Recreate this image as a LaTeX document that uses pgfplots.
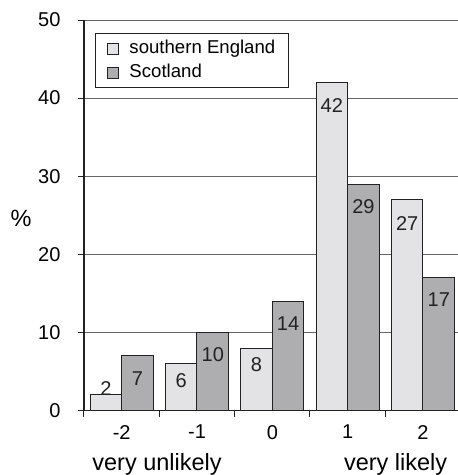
\documentclass[border=0pt]{standalone}
\usepackage{pgfplots}
\pgfplotsset{compat=1.18}
\usepackage{fontspec}
\setmainfont{Liberation Sans}

\definecolor{lightbar}{HTML}{E3E3E5}
\definecolor{darkbar}{HTML}{AEAEB1}
\definecolor{edge}{HTML}{222222}

\newcommand{\tickfont}{\fontsize{20}{24}\selectfont}
\newcommand{\legfont}{\fontsize{18.6}{22}\selectfont}
\newcommand{\bigfont}{\fontsize{23.5}{28}\selectfont}

\pgfplotsset{
  squarelegend/.style={
    legend image code/.code={\draw[##1, line width=1pt, draw=edge] (0pt,-5.5pt) rectangle (11pt,5.5pt);}
  },
}

\begin{document}
\begin{tikzpicture}
\useasboundingbox (-84pt,-64.5pt) rectangle (374pt,410.5pt);
\begin{axis}[
  scale only axis, width=374pt, height=390.5pt,
  xmin=-2.5, xmax=2.465, ymin=0, ymax=50,
  axis x line*=bottom, axis y line*=left,
  axis line style={edge, line width=1.3pt},
  ytick={0,10,...,50},
  ymajorgrids, grid style={black!60, line width=0.8pt},
  xtick={-2.5,-1.5,...,2.5}, xticklabels={},
  extra x ticks={-2,-1,0,1,2},
  extra x tick labels={-2,-1,0,1,2},
  extra x tick style={major tick length=0pt, tick label style={yshift=-11pt}},
  tick align=outside, major tick length=6pt,
  tick style={edge, line width=1pt},
  tick label style={font=\tickfont},
  yticklabel style={xshift=-14pt},
  /pgf/number format/assume math mode=true,
  legend style={at={(0.029,0.967)}, anchor=north west, draw=edge, line width=1.3pt,
    font=\legfont, inner xsep=12pt, inner ysep=4.5pt, row sep=3pt,
    nodes={inner xsep=1pt, inner ysep=2pt, text height=13pt, text depth=4pt},
    /tikz/every odd column/.append style={column sep=9pt}},
  legend cell align=left,
  clip=false,
]
% southern England: labels sit inside the bar top; the short first bar carries its label above
\addplot[ybar, bar width=0.42, bar shift=-0.21, fill=lightbar, draw=edge, line width=1pt,
  squarelegend,
  nodes near coords,
  every node near coord/.append style={font=\tickfont, anchor=north, inner sep=0pt, color=edge, xshift=-15.8pt},
  coordinate style/.condition={y>=10}{yshift=-16pt},
  coordinate style/.condition={y<10}{yshift=-9.5pt},
  coordinate style/.condition={y<3}{yshift=23.5pt},
] coordinates {(-2,2) (-1,6) (0,8) (1,42) (2,27)};
\addlegendentry{southern England}
% Scotland
\addplot[ybar, bar width=0.42, bar shift=0.21, fill=darkbar, draw=edge, line width=1pt,
  squarelegend,
  nodes near coords,
  every node near coord/.append style={font=\tickfont, anchor=north, inner sep=0pt, color=edge, xshift=15.8pt, yshift=-15pt},
] coordinates {(-2,7) (-1,10) (0,14) (1,29) (2,17)};
\addlegendentry{Scotland}

\node[font=\bigfont, anchor=base] at (axis cs:-1.53,0) [yshift=-59.5pt] {very unlikely};
\node[font=\bigfont, anchor=base] at (axis cs:1.637,0) [yshift=-59.5pt] {very likely};
\node[font=\bigfont] at (axis cs:-2.5,24.6) [xshift=-63pt] {\%};
\end{axis}
\end{tikzpicture}
\end{document}
